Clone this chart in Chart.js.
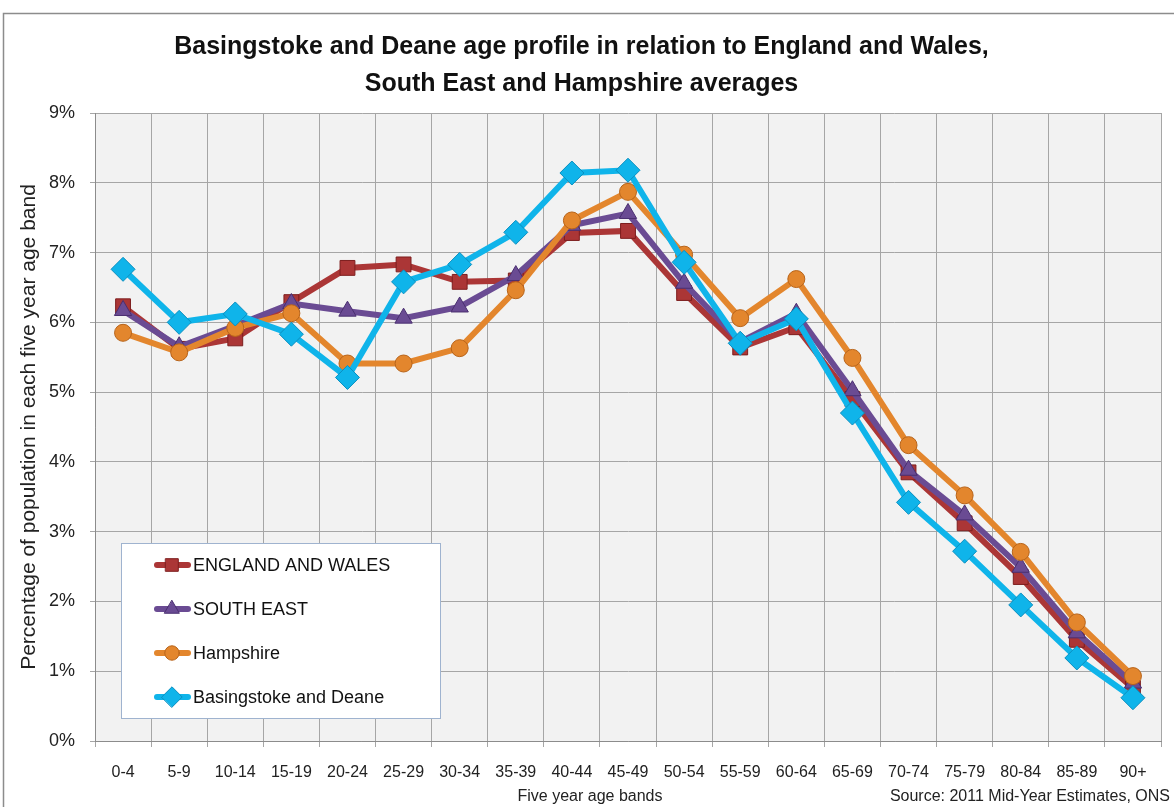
<!DOCTYPE html>
<html lang="en">
<head>
    <meta charset="UTF-8">
    <title>Basingstoke and Deane age profile</title>
    <script src="https://cdn.jsdelivr.net/npm/chart.js"></script>
    <style>
        body {
            margin: 0;
            padding: 0;
            background-color: #fff;
        }

        .chart-box {
            position: relative;
            width: 1174px;
            height: 807px;
        }
    </style>
</head>
<body>

<div class="chart-box">
    <canvas id="age-chart"></canvas>
</div>

<script>
    const ageBands = ['0-4', '5-9', '10-14', '15-19', '20-24', '25-29', '30-34', '35-39', '40-44', '45-49',
        '50-54', '55-59', '60-64', '65-69', '70-74', '75-79', '80-84', '85-89', '90+'];

    const englandWales = [6.23, 5.62, 5.77, 6.29, 6.78, 6.83, 6.58, 6.60, 7.28, 7.31,
        6.42, 5.64, 5.93, 4.90, 3.85, 3.12, 2.35, 1.45, 0.76];
    const southEast = [6.17, 5.65, 5.95, 6.27, 6.16, 6.06, 6.22, 6.67, 7.39, 7.56,
        6.56, 5.72, 6.13, 5.02, 3.88, 3.24, 2.49, 1.55, 0.83];
    const hampshire = [5.85, 5.57, 5.92, 6.13, 5.41, 5.41, 5.63, 6.46, 7.46, 7.87,
        6.97, 6.06, 6.62, 5.49, 4.24, 3.52, 2.71, 1.70, 0.93];
    const basingstoke = [6.76, 6.00, 6.12, 5.83, 5.21, 6.58, 6.83, 7.29, 8.14, 8.18,
        6.86, 5.70, 6.05, 4.70, 3.42, 2.72, 1.95, 1.19, 0.62];

    const yTicks = [0, 1, 2, 3, 4, 5, 6, 7, 8, 9];

    // fond blanc, cadre et zone grise du graphique
    const framePlugin = {
        id: 'frame',
        beforeDraw(chart) {
            const ctx = chart.ctx;
            const a = chart.chartArea;
            ctx.save();
            ctx.fillStyle = '#fff';
            ctx.fillRect(0, 0, chart.width, chart.height);
            ctx.strokeStyle = '#8c8c8c';
            ctx.lineWidth = 1.5;
            ctx.strokeRect(3.5, 13.5, chart.width + 10, chart.height + 10);
            ctx.fillStyle = '#f2f2f2';
            ctx.fillRect(a.left, a.top, a.right - a.left, a.bottom - a.top);
            ctx.restore();
        }
    };

    // légende dans le graphique + textes du bas
    const extrasPlugin = {
        id: 'extras',
        afterDraw(chart) {
            const ctx = chart.ctx;
            ctx.save();
            ctx.fillStyle = '#fff';
            ctx.fillRect(121, 543, 319, 175);
            ctx.strokeStyle = '#9fb3cf';
            ctx.lineWidth = 1;
            ctx.strokeRect(121.5, 543.5, 319, 175);

            const rows = [565, 609, 653, 697];
            chart.data.datasets.forEach((ds, i) => {
                const y = rows[i];
                ctx.strokeStyle = ds.borderColor;
                ctx.lineWidth = 6;
                ctx.lineCap = 'round';
                ctx.beginPath();
                ctx.moveTo(157, y);
                ctx.lineTo(188, y);
                ctx.stroke();
                ctx.fillStyle = ds.pointBackgroundColor;
                ctx.strokeStyle = ds.pointBorderColor;
                ctx.lineWidth = 1;
                Chart.helpers.drawPoint(ctx, {
                    pointStyle: ds.pointStyle,
                    radius: ds.pointRadius * 0.85,
                    borderWidth: 1
                }, 172, y);
                ctx.fillStyle = '#111';
                ctx.font = '18px "Liberation Sans", Arial, sans-serif';
                ctx.textBaseline = 'middle';
                ctx.textAlign = 'left';
                ctx.fillText(ds.label, 193, y + 1);
            });

            ctx.fillStyle = '#222';
            ctx.font = '16px "Liberation Sans", sans-serif';
            ctx.textAlign = 'center';
            ctx.fillText('Five year age bands', 590, 797);
            ctx.textAlign = 'right';
            ctx.fillText('Source: 2011 Mid-Year Estimates, ONS', 1170, 797);
            ctx.restore();
        }
    };

    function makeSet(label, data, color, edge, style, radius, order) {
        return {
            label: label,
            data: data,
            borderColor: color,
            borderWidth: 6,
            pointStyle: style,
            pointRadius: radius,
            pointHoverRadius: radius,
            pointBackgroundColor: color,
            pointBorderColor: edge,
            pointBorderWidth: 1,
            tension: 0,
            order: order
        };
    }

    const ctx = document.getElementById('age-chart').getContext('2d');
    new Chart(ctx, {
        type: 'line',
        data: {
            labels: ageBands,
            datasets: [
                makeSet('ENGLAND AND WALES', englandWales, '#ab3636', '#7d1e1e', 'rect', 10.5, 4),
                makeSet('SOUTH EAST', southEast, '#6a4b93', '#4a2f70', 'triangle', 10, 3),
                makeSet('Hampshire', hampshire, '#e3862d', '#b8641a', 'circle', 8.5, 2),
                makeSet('Basingstoke and Deane', basingstoke, '#0fb4ea', '#0a8fc0', 'rectRot', 12, 1)
            ]
        },
        options: {
            responsive: true,
            maintainAspectRatio: false,
            animation: false,
            layout: {
                padding: { left: 0, right: 11, top: 0, bottom: 0 }
            },
            plugins: {
                legend: { display: false },
                tooltip: { enabled: false },
                title: {
                    display: true,
                    text: ['Basingstoke and Deane age profile in relation to England and Wales,',
                        'South East and Hampshire averages'],
                    color: '#111',
                    font: { family: '"Liberation Sans", sans-serif', size: 25, weight: 'bold', lineHeight: 1.48 },
                    padding: { top: 29, bottom: 10 }
                }
            },
            scales: {
                x: {
                    offset: true,
                    grid: {
                        offset: true,
                        color: '#a6a6a6',
                        tickLength: 6
                    },
                    border: { color: '#8c8c8c' },
                    ticks: {
                        color: '#222',
                        padding: 16,
                        maxRotation: 0,
                        autoSkip: false,
                        font: { family: '"Liberation Sans", sans-serif', size: 16 }
                    },
                    afterFit(scale) {
                        scale.height = 66;
                    }
                },
                y: {
                    min: 0,
                    max: 9,
                    afterBuildTicks(scale) {
                        scale.ticks = yTicks.map(v => ({ value: v }));
                    },
                    grid: {
                        color: '#a6a6a6',
                        tickLength: 5
                    },
                    border: { color: '#8c8c8c' },
                    ticks: {
                        color: '#222',
                        padding: 15,
                        font: { family: '"Liberation Sans", sans-serif', size: 18 },
                        callback: v => v + '%'
                    },
                    title: {
                        display: true,
                        text: 'Percentage of population in each five year age band',
                        color: '#222',
                        font: { family: '"Liberation Sans", sans-serif', size: 21 },
                        padding: { top: 17 }
                    },
                    afterFit(scale) {
                        scale.width = 95;
                    }
                }
            }
        },
        plugins: [framePlugin, extrasPlugin]
    });
</script>

</body>
</html>
